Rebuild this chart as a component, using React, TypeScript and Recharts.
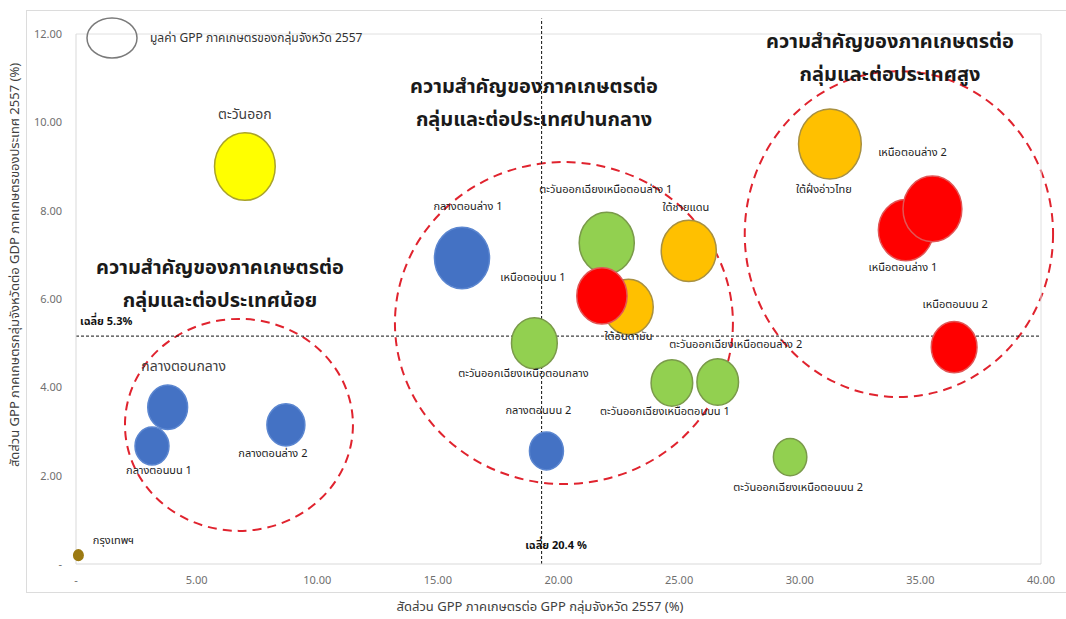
import React from 'react';
import { ScatterChart, Scatter, XAxis, YAxis, ZAxis, ReferenceLine, ReferenceArea } from 'recharts';

// ---- data ----
const regions = [
  'กลางตอนกลาง', 'กลางตอนบน 1', 'กลางตอนล่าง 2', 'กลางตอนล่าง 1', 'กลางตอนบน 2',
  'ตะวันออก',
  'ตะวันออกเฉียงเหนือตอนล่าง 1', 'ตะวันออกเฉียงเหนือตอนกลาง', 'ตะวันออกเฉียงเหนือตอนบน 1',
  'ตะวันออกเฉียงเหนือตอนล่าง 2', 'ตะวันออกเฉียงเหนือตอนบน 2',
  'ใต้ชายแดน', 'ใต้อันดามัน', 'ใต้ฝั่งอ่าวไทย',
  'เหนือตอนบน 1', 'เหนือตอนล่าง 1', 'เหนือตอนล่าง 2', 'เหนือตอนบน 2',
  'กรุงเทพฯ',
];
const regionGroup = [
  'central', 'central', 'central', 'central', 'central',
  'east',
  'northeast', 'northeast', 'northeast', 'northeast', 'northeast',
  'south', 'south', 'south',
  'north', 'north', 'north', 'north',
  'bangkok',
];
// share of agri GPP in the provincial-group GPP (%)
const agriShareOfGpp = [3.8, 3.15, 8.7, 16.0, 19.5, 7.0, 22.0, 19.0, 24.7, 26.6, 29.6, 25.4, 22.9, 31.25, 21.8, 34.4, 35.5, 36.4, 0.1];
// share of national agri GDP (%)
const shareOfNationalAgri = [3.55, 2.67, 3.15, 6.93, 2.56, 9.0, 7.27, 5.0, 4.1, 4.12, 2.42, 7.09, 5.82, 9.51, 6.07, 7.56, 8.04, 4.91, 0.2];
// agri GPP value 2557 (bubble size)
const agriGppValue = [44, 32, 40, 84, 32, 102, 84, 58, 48, 48, 31, 84, 68, 109, 70, 84, 96, 58, 2.5];

const xTicks = [0, 5, 10, 15, 20, 25, 30, 35, 40];
const yTicks = [0, 2, 4, 6, 8, 10, 12];
const avgX = 19.3;
const avgY = 5.16;

// ellipse guides in data units [x1, x2, y1, y2]
const guideLow = [2.03, 11.48, 0.75, 5.55];
const guideMid = [13.22, 27.23, 1.81, 9.1];
const guideHigh = [27.72, 40.5, 3.78, 11.16];

// ---- style / layout tables ----
const groupOrder = ['central', 'east', 'northeast', 'south', 'north', 'bangkok'];
const groupStyle: Record<string, { fill: string; stroke: string }> = {
  central: { fill: '#4472C4', stroke: '#5B86D0' },
  east: { fill: '#FFFF00', stroke: '#A9A32A' },
  northeast: { fill: '#92D050', stroke: '#7A9A4A' },
  south: { fill: '#FFC000', stroke: '#A89040' },
  north: { fill: '#FF0000', stroke: '#E25555' },
  bangkok: { fill: '#9C7A12', stroke: '#9C7A12' },
};
// label offsets from bubble centre, in pixels
const labelOffsets: Record<string, [number, number, number?]> = {
  'กลางตอนกลาง': [16, -41, 14],
  'กลางตอนบน 1': [7, 24],
  'กลางตอนล่าง 2': [-13, 29],
  'กลางตอนล่าง 1': [6, -51],
  'กลางตอนบน 2': [-8, -40],
  'ตะวันออก': [0, -52, 14],
  'ตะวันออกเฉียงเหนือตอนล่าง 1': [-1, -53],
  'ตะวันออกเฉียงเหนือตอนกลาง': [-11, 30],
  'ตะวันออกเฉียงเหนือตอนบน 1': [-7, 29],
  'ตะวันออกเฉียงเหนือตอนล่าง 2': [18, -38],
  'ตะวันออกเฉียงเหนือตอนบน 2': [8, 30],
  'ใต้ชายแดน': [-3, -43],
  'ใต้อันดามัน': [0, 30],
  'ใต้ฝั่งอ่าวไทย': [-6, 46],
  'เหนือตอนบน 1': [-69, -18],
  'เหนือตอนล่าง 1': [-3, 37],
  'เหนือตอนล่าง 2': [-20, -56],
  'เหนือตอนบน 2': [1, -43],
  'กรุงเทพฯ': [35, -15],
};

const points = regions.map((name, i) => ({
  name,
  group: regionGroup[i],
  x: agriShareOfGpp[i],
  y: shareOfNationalAgri[i],
  z: agriGppValue[i],
}));

const FONT = "'Noto Sans Thai', Tahoma, 'DejaVu Sans', Arial, sans-serif";
const fmt = (v: number) => (v === 0 ? '-' : v.toFixed(2));

const radiusOf = (p: any) => {
  if (p.width) return p.width / 2;
  return Math.sqrt(Math.max(p.size || 0, 0) / Math.PI);
};

const bubbleShape = (group: string) => (p: any) => {
  const r = radiusOf(p);
  const s = groupStyle[group];
  return (
    <ellipse cx={p.cx} cy={p.cy} rx={r * 0.95} ry={r * 1.06} fill={s.fill} stroke={s.stroke} strokeWidth={1.5} />
  );
};

const labelShape = (p: any) => {
  const name = p.payload?.name ?? p.name;
  const off = labelOffsets[name] || [0, 0];
  const big = off[2];
  return (
    <text
      x={p.cx + off[0]}
      y={p.cy + off[1]}
      textAnchor="middle"
      dominantBaseline="central"
      fontSize={big || 11}
      fill={big ? '#404040' : '#222'}
      fontFamily={FONT}
    >
      {name}
    </text>
  );
};

const ellipseShape = (p: any) => (
  <ellipse
    cx={p.x + p.width / 2}
    cy={p.y + p.height / 2}
    rx={Math.abs(p.width) / 2}
    ry={Math.abs(p.height) / 2}
    fill="none"
    stroke="#E0232E"
    strokeWidth={2}
    strokeDasharray="9 6"
  />
);

const guides = [guideLow, guideMid, guideHigh];

export default function App() {
  return (
    <div style={{ position: 'absolute', left: 0, top: 0, width: 1066, height: 619, background: '#fff', overflow: 'hidden', fontFamily: FONT }}>
      <div style={{ position: 'absolute', left: 26, top: 10, width: 1060, height: 581, border: '1px solid #dcdcdc' }} />
      <div style={{ position: 'absolute', left: 0, top: 0 }}>
        <ScatterChart width={1066} height={619} margin={{ top: 34, right: 25, bottom: 25, left: 0 }}>
          <XAxis
            type="number"
            dataKey="x"
            domain={[0, 40]}
            ticks={xTicks}
            tickFormatter={fmt}
            tickLine={false}
            tickMargin={6}
            height={30}
            axisLine={{ stroke: '#d9d9d9' }}
            tick={{ fontSize: 11, fill: '#6f6f6f', fontFamily: FONT }}
            interval={0}
          />
          <YAxis
            type="number"
            dataKey="y"
            domain={[0, 12]}
            ticks={yTicks}
            tickFormatter={fmt}
            tickLine={false}
            tickMargin={8}
            width={76}
            axisLine={{ stroke: '#d9d9d9' }}
            tick={{ fontSize: 11, fill: '#6f6f6f', fontFamily: FONT }}
            interval={0}
          />
          <ZAxis type="number" dataKey="z" domain={[0, 110]} range={[0, Math.PI * 1100]} />
          <ReferenceLine y={12} stroke="#e0e0e0" ifOverflow="visible" />
          <ReferenceLine x={40} stroke="#e0e0e0" ifOverflow="visible" />
          {groupOrder.map((g) => (
            <Scatter
              key={g}
              data={points.filter((p) => p.group === g)}
              shape={bubbleShape(g)}
              isAnimationActive={false}
            />
          ))}
          {guides.map((gd, i) => (
            <ReferenceArea key={i} x1={gd[0]} x2={gd[1]} y1={gd[2]} y2={gd[3]} ifOverflow="visible" shape={ellipseShape} />
          ))}
          <ReferenceLine y={avgY} stroke="#111" strokeDasharray="3 2" strokeWidth={1} ifOverflow="visible" />
          <ReferenceLine
            segment={[{ x: avgX, y: 0 }, { x: avgX, y: 12.35 }]}
            stroke="#111"
            strokeDasharray="3 2"
            strokeWidth={1}
            ifOverflow="visible"
          />
          <Scatter data={points} shape={labelShape} isAnimationActive={false} />
        </ScatterChart>
      </div>
      <svg width={1066} height={619} style={{ position: 'absolute', left: 0, top: 0, pointerEvents: 'none' }} fontFamily={FONT}>
        <ellipse cx={112} cy={38} rx={25} ry={20} fill="none" stroke="#7a7a7a" strokeWidth={1.5} />
        <text x={150} y={38} fontSize={12} fill="#333" dominantBaseline="central">มูลค่า GPP ภาคเกษตรของกลุ่มจังหวัด 2557</text>

        <text x={220} y={268} fontSize={20} fontWeight="bold" fill="#1a1a1a" textAnchor="middle" dominantBaseline="central">ความสำคัญของภาคเกษตรต่อ</text>
        <text x={220} y={301} fontSize={20} fontWeight="bold" fill="#1a1a1a" textAnchor="middle" dominantBaseline="central">กลุ่มและต่อประเทศน้อย</text>

        <text x={534} y={87} fontSize={20} fontWeight="bold" fill="#1a1a1a" textAnchor="middle" dominantBaseline="central">ความสำคัญของภาคเกษตรต่อ</text>
        <text x={534} y={120} fontSize={20} fontWeight="bold" fill="#1a1a1a" textAnchor="middle" dominantBaseline="central">กลุ่มและต่อประเทศปานกลาง</text>

        <text x={890} y={42} fontSize={20} fontWeight="bold" fill="#1a1a1a" textAnchor="middle" dominantBaseline="central">ความสำคัญของภาคเกษตรต่อ</text>
        <text x={890} y={75} fontSize={20} fontWeight="bold" fill="#1a1a1a" textAnchor="middle" dominantBaseline="central">กลุ่มและต่อประเทศสูง</text>

        <text x={80} y={321} fontSize={11} fontWeight="bold" fill="#111" dominantBaseline="central">เฉลี่ย 5.3%</text>
        <text x={556} y={545} fontSize={11} fontWeight="bold" fill="#111" textAnchor="middle" dominantBaseline="central">เฉลี่ย 20.4 %</text>

        <text x={540} y={607} fontSize={13} fill="#404040" textAnchor="middle" dominantBaseline="central">สัดส่วน GPP ภาคเกษตรต่อ GPP กลุ่มจังหวัด 2557 (%)</text>
        <text
          x={15}
          y={265}
          fontSize={13}
          fill="#404040"
          textAnchor="middle"
          dominantBaseline="central"
          transform="rotate(-90 15 265)"
        >
          สัดส่วน GPP ภาคเกษตรกลุ่มจังหวัดต่อ GDP ภาคเกษตรของประเทศ 2557 (%)
        </text>
      </svg>
    </div>
  );
}
